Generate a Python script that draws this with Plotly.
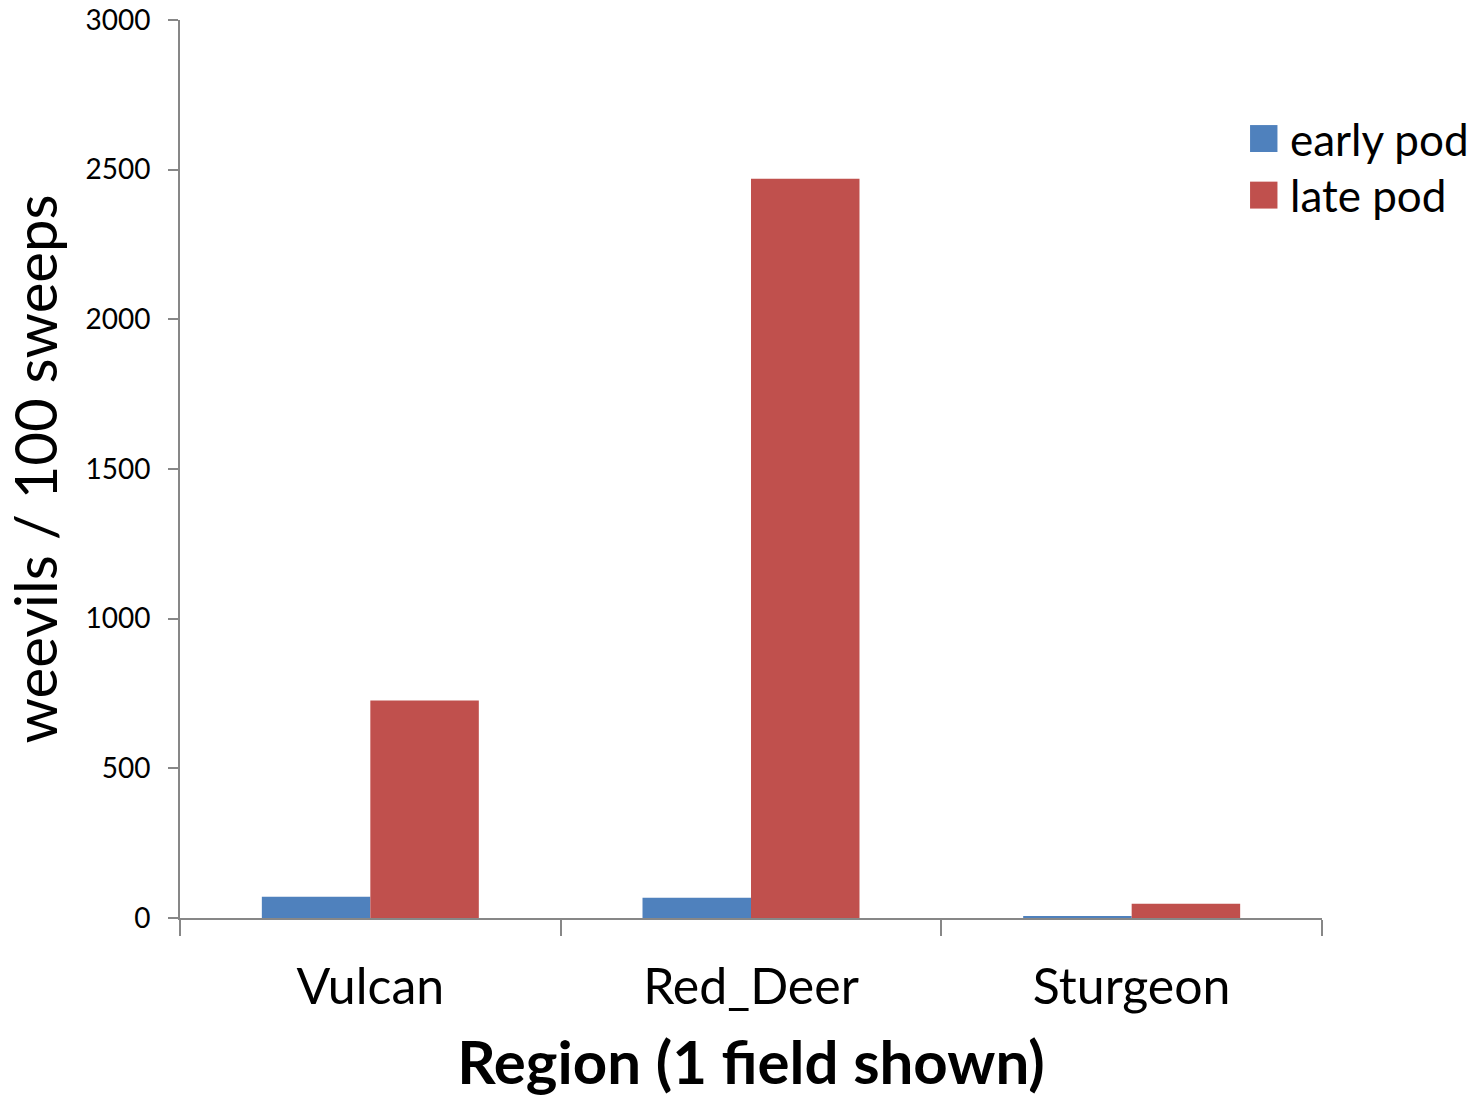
import plotly.graph_objects as go

# Weevil counts per region, sampled in early and late pod stage
regions = ["Vulcan", "Red_Deer", "Sturgeon"]
early_pod = [71, 68, 6]
late_pod = [727, 2470, 48]
series_names = ["early pod", "late pod"]
colors = ["#4F81BD", "#C0504D"]
y_ticks = [0, 500, 1000, 1500, 2000, 2500, 3000]

FONT = "Lato"
AXIS_GREY = "#878787"

fig = go.Figure()
for name, vals, col in zip(series_names, [early_pod, late_pod], colors):
    fig.add_trace(go.Bar(
        x=regions, y=vals, name=name,
        marker=dict(color=col, line=dict(width=0)),
        showlegend=False,
    ))

# Legend drawn as large square swatches with labels (plot-area fractions)
swatch_x0, swatch_x1 = 0.937, 0.961
text_x = 0.970
row_tops = [0.883, 0.820]
swatch_h = 0.030
for name, col, top in zip(series_names, colors, row_tops):
    fig.add_shape(type="rect", xref="paper", yref="paper",
                  x0=swatch_x0, x1=swatch_x1, y0=top - swatch_h, y1=top,
                  fillcolor=col, line=dict(width=0))
    fig.add_annotation(xref="paper", yref="paper", x=text_x, y=top - swatch_h / 2,
                       text=name, showarrow=False, xanchor="left", yanchor="middle",
                       font=dict(family=FONT, size=44, color="#000000"))

fig.update_layout(
    width=1478, height=1097,
    margin=dict(l=180, r=156, t=20, b=179, autoexpand=False),
    paper_bgcolor="white", plot_bgcolor="white",
    barmode="group", bargap=0.43, bargroupgap=0,
    font=dict(family=FONT, color="#000000"),
)
fig.update_xaxes(
    showline=True, linecolor=AXIS_GREY, linewidth=2,
    ticks="outside", tickson="boundaries", ticklen=16, tickwidth=2, tickcolor=AXIS_GREY,
    tickfont=dict(family=FONT, size=50), ticklabelstandoff=24,
    title=dict(text="<b>Region (1 field shown)</b>", font=dict(family=FONT, size=60), standoff=30),
    showgrid=False,
)
fig.update_yaxes(
    range=[0, 3000], tickvals=y_ticks,
    showline=True, linecolor=AXIS_GREY, linewidth=2,
    ticks="outside", ticklen=10, tickwidth=2, tickcolor=AXIS_GREY,
    tickfont=dict(family=FONT, size=28), ticklabelstandoff=12,
    title=dict(text="weevils / 100 sweeps", font=dict(family=FONT, size=58), standoff=14),
    showgrid=False, zeroline=False,
)

fig.write_html("out.html")
